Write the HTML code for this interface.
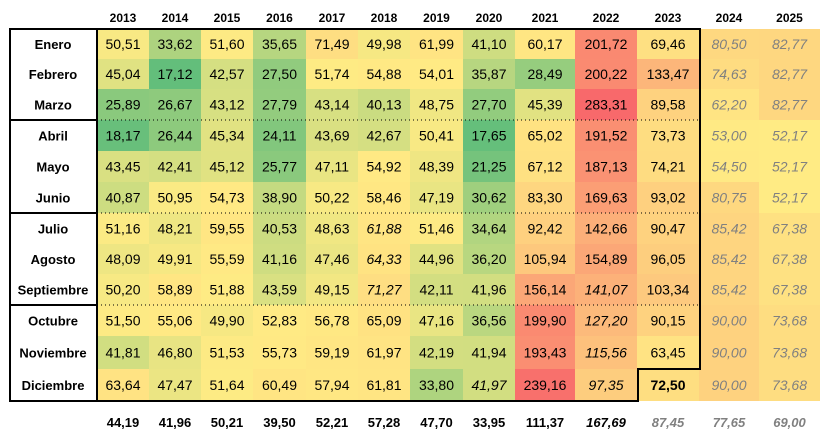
<!DOCTYPE html>
<html><head><meta charset="utf-8"><style>
body{margin:0;background:#fff;width:829px;height:440px;overflow:hidden}
svg text{font-family:"Liberation Sans",sans-serif}
</style></head><body>
<svg id="c" width="829" height="440"></svg>
<script>
const years=["2013","2014","2015","2016","2017","2018","2019","2020","2021","2022","2023","2024","2025"];
const months=["Enero","Febrero","Marzo","Abril","Mayo","Junio","Julio","Agosto","Septiembre","Octubre","Noviembre","Diciembre"];
const v2013=[50.51,45.04,25.89,18.17,43.45,40.87,51.16,48.09,50.20,51.50,41.81,63.64];
const v2014=[33.62,17.12,26.67,26.44,42.41,50.95,48.21,49.91,58.89,55.06,46.80,47.47];
const v2015=[51.60,42.57,43.12,45.34,45.12,54.73,59.55,55.59,51.88,49.90,51.53,51.64];
const v2016=[35.65,27.50,27.79,24.11,25.77,38.90,40.53,41.16,43.59,52.83,55.73,60.49];
const v2017=[71.49,51.74,43.14,43.69,47.11,50.22,48.63,47.46,49.15,56.78,59.19,57.94];
const v2018=[49.98,54.88,40.13,42.67,54.92,58.46,61.88,64.33,71.27,65.09,61.97,61.81];
const v2019=[61.99,54.01,48.75,50.41,48.39,47.19,51.46,44.96,42.11,47.16,42.19,33.80];
const v2020=[41.10,35.87,27.70,17.65,21.25,30.62,34.64,36.20,41.96,36.56,41.94,41.97];
const v2021=[60.17,28.49,45.39,65.02,67.12,83.30,92.42,105.94,156.14,199.90,193.43,239.16];
const v2022=[201.72,200.22,283.31,191.52,187.13,169.63,142.66,154.89,141.07,127.20,115.56,97.35];
const v2023=[69.46,133.47,89.58,73.73,74.21,93.02,90.47,96.05,103.34,90.15,63.45,72.50];
const v2024=[80.50,74.63,62.20,53.00,54.50,80.75,85.42,85.42,85.42,90.00,90.00,90.00];
const v2025=[82.77,82.77,82.77,52.17,52.17,52.17,67.38,67.38,67.38,73.68,73.68,73.68];
const totals=[44.19,41.96,50.21,39.50,52.21,57.28,47.70,33.95,111.37,167.69,87.45,77.65,69.00];
const series=[v2013,v2014,v2015,v2016,v2017,v2018,v2019,v2020,v2021,v2022,v2023,v2024,v2025];

const colX=[97,149,201,253,306,358,410,463,515,575,637,699,759,820];
const rowY=[29,59,89,120,151,182,213,244,274,305,336,369,401];
const NS="http://www.w3.org/2000/svg";
const svg=document.getElementById('c');
function el(t,a){const e=document.createElementNS(NS,t);for(const k in a)e.setAttribute(k,a[k]);svg.appendChild(e);return e;}
const vmin=17.12,vmid=52,vmax=250;
function color(v){
  const g=[99,190,123],y=[255,235,132],r=[248,105,107];let a,b,t;
  if(v<=vmid){a=g;b=y;t=(v-vmin)/(vmid-vmin);}else{a=y;b=r;t=(v-vmid)/(vmax-vmid);}
  t=Math.max(0,Math.min(1,t));
  return "rgb("+a.map((c,i)=>Math.round(c+(b[i]-c)*t)).join(",")+")";
}
function fmt(v){return v.toFixed(2).replace('.',',');}
const italic={"5":[6,7,8],"7":[11],"9":[8,9,10,11]};
years.forEach((yr,j)=>{
  const cx=(colX[j]+colX[j+1])/2;
  const h=el('text',{x:cx,y:22,'text-anchor':'middle','font-size':12,'font-weight':'bold',fill:'#000'});
  h.textContent=yr;
  
  
  series[j].forEach((v,i)=>{
    const r=el('rect',{x:colX[j],y:rowY[i],width:colX[j+1]-colX[j],height:rowY[i+1]-rowY[i],fill:color(v)});
    
    
    const it=j>=11||(italic[j]&&italic[j].includes(i));
    const t=el('text',{x:cx,y:(rowY[i]+rowY[i+1])/2+5,'text-anchor':'middle','font-size':14,fill:j>=11?'#808080':'#000','font-style':it?'italic':'normal','font-weight':(j==10&&i==11)?'bold':'normal'});
    t.textContent=fmt(v);
    
    
  });
  const tt=el('text',{x:cx,y:427,'text-anchor':'middle','font-size':13,'font-weight':'bold','font-style':j>=9?'italic':'normal',fill:j>=10?'#808080':'#000'});
  tt.textContent=fmt(totals[j]);
  
  
});
months.forEach((m,i)=>{
  const t=el('text',{x:53,y:(rowY[i]+rowY[i+1])/2+5,'text-anchor':'middle','font-size':13,'font-weight':'bold',fill:'#000'});
  t.textContent=m;
  
  
});
[3,6,9].forEach(i=>{
  el('line',{x1:10,x2:97,y1:rowY[i],y2:rowY[i],stroke:'#000','stroke-width':2});
  el('line',{x1:97,x2:700,y1:rowY[i],y2:rowY[i],stroke:'#000','stroke-width':1,'stroke-dasharray':'1,3'});
});
el('path',{d:"M10,29 H700 V369 H638 V401 H10 Z",fill:'none',stroke:'#000','stroke-width':2});
el('line',{x1:97,x2:97,y1:29,y2:401,stroke:'#000','stroke-width':2});
</script>
</body></html>
